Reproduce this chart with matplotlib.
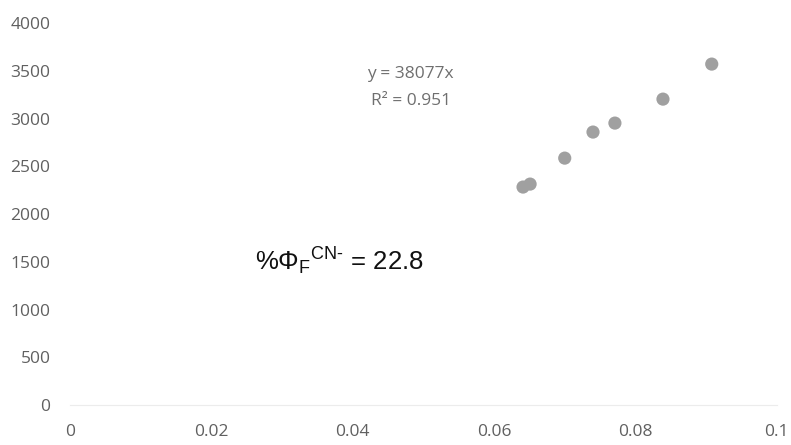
import matplotlib.pyplot as plt

conc = [0.0641, 0.0651, 0.0700, 0.0740, 0.0771, 0.0839, 0.0908]
intensity = [2283, 2314, 2586, 2859, 2953, 3204, 3571]

x_ticks = [0, 0.02, 0.04, 0.06, 0.08, 0.1]
x_labels = ["0", "0.02", "0.04", "0.06", "0.08", "0.1"]
y_ticks = [0, 500, 1000, 1500, 2000, 2500, 3000, 3500, 4000]

plt.rcParams['font.family'] = ['Open Sans', 'DejaVu Sans']
plt.rcParams['mathtext.fontset'] = 'custom'
plt.rcParams['mathtext.rm'] = 'Liberation Sans'
plt.rcParams['mathtext.it'] = 'Liberation Sans:italic'

fig = plt.figure(figsize=(7.91, 4.45), dpi=100)
ax = fig.add_axes([0.0885, 0.0899, 0.8935, 0.8581])

ax.scatter(conc, intensity, s=90, color='#a0a0a0', edgecolors='none', zorder=3)

ax.set_xlim(0, 0.1)
ax.set_ylim(0, 4000)
ax.set_xticks(x_ticks)
ax.set_xticklabels(x_labels)
ax.set_yticks(y_ticks)

for side in ['top', 'right', 'left']:
    ax.spines[side].set_visible(False)
ax.spines['bottom'].set_color('#ececec')
ax.tick_params(length=0, labelsize=12.5, labelcolor='#606060')
ax.tick_params(axis='x', pad=14)
ax.tick_params(axis='y', pad=14)

ax.text(0.482, 0.866, "y = 38077x", transform=ax.transAxes, ha='center',
        va='center', fontsize=12.5, color='#6f6f6f')
ax.text(0.482, 0.795, "R² = 0.951", transform=ax.transAxes, ha='center',
        va='center', fontsize=12.5, color='#6f6f6f')

ax.text(0.262, 0.375, r"%$\Phi_\mathrm{F}{}^\text{CN-}$ = 22.8", transform=ax.transAxes,
        ha='left', va='center', fontsize=18.5, color='#111111', family='Liberation Sans')

fig.savefig('out.png', dpi=100)
